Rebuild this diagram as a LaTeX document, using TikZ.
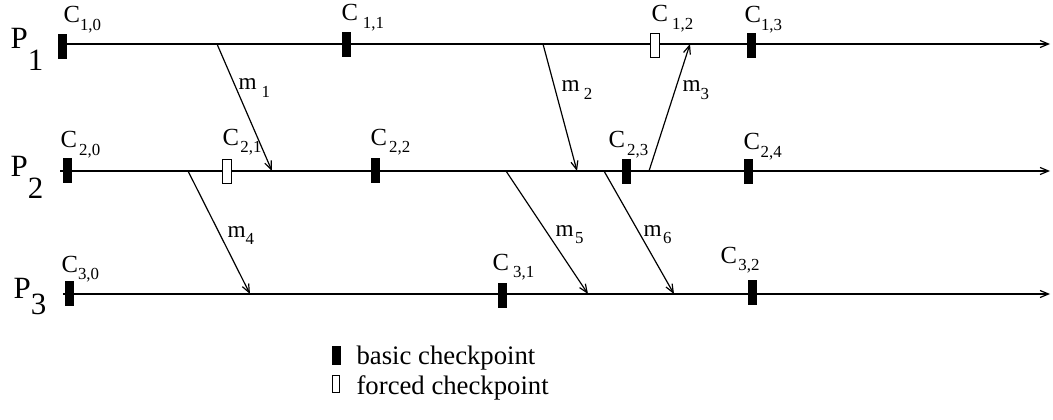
\documentclass[tikz,border=0pt]{standalone}
\usepackage{fontspec}
\setmainfont{Liberation Serif}
\usetikzlibrary{arrows.meta}

% etichette con pedice abbassato
\newcommand{\chk}[2][0pt]{C\hspace{#1}\raisebox{-5pt}{\fontsize{12}{13}\selectfont #2}}
\newcommand{\msg}[2][0pt]{m\hspace{#1}\raisebox{-5pt}{\fontsize{12}{13}\selectfont #2}}
\newcommand{\proc}[2][-15pt]{P\raisebox{#1}{#2}}

\begin{document}
\begin{tikzpicture}[x=0.025cm, y=-0.025cm, line width=0.85pt,
    >={Straight Barb[length=6pt,width=5pt]},
    basic/.style={draw, fill=black, minimum width=0.2cm, minimum height=0.6cm, inner sep=0pt, line width=0.5pt},
    forced/.style={draw, fill=white, minimum width=0.22cm, minimum height=0.6cm, inner sep=0pt, line width=0.7pt},
    cklab/.style={anchor=base west, inner sep=0pt, font=\fontsize{17.5}{20}\selectfont},
    msglab/.style={anchor=base west, inner sep=0pt, font=\fontsize{16.5}{18}\selectfont},
    proclab/.style={anchor=base west, inner sep=0pt, font=\fontsize{22}{24}\selectfont},
    legtext/.style={anchor=base west, inner sep=0pt, font=\fontsize{19}{21}\selectfont}]

    \useasboundingbox (0,0) rectangle (1053,420);

    % --- Processi ---
    \node[proclab] (P1) at (10,49) {\proc{1}};
    \node[proclab] (P2) at (10,177) {\proc{2}};
    \node[proclab] (P3) at (13,298) {\proc[-12pt]{3}};

    % --- Linee temporali ---
    \coordinate (p1s) at (62,44);  \coordinate (p1e) at (1050,44);
    \coordinate (p2s) at (60,171); \coordinate (p2e) at (1050,171);
    \coordinate (p3s) at (63,294); \coordinate (p3e) at (1050,294);
    \draw[->] (p1s) -- (p1e);
    \draw[->] (p2s) -- (p2e);
    \draw[->] (p3s) -- (p3e);

    % --- Messaggi ---
    \coordinate (m1s) at (217,44);  \coordinate (m1e) at (272,171);
    \coordinate (m2s) at (543,44);  \coordinate (m2e) at (577,171);
    \coordinate (m3s) at (649,171); \coordinate (m3e) at (690,44);
    \coordinate (m4s) at (188,171); \coordinate (m4e) at (250,294);
    \coordinate (m5s) at (506,171); \coordinate (m5e) at (588,294);
    \coordinate (m6s) at (604,171); \coordinate (m6e) at (674,294);
    \foreach \m in {1,...,6}
        \draw[->] (m\m s) -- (m\m e);

    \node[msglab] (lm1) at (238,90) {\msg[3.5pt]{1}};
    \node[msglab] (lm2) at (561,92) {\msg[3pt]{2}};
    \node[msglab] (lm3) at (682,92) {\msg{3}};
    \node[msglab] (lm4) at (227,237) {\msg{4}};
    \node[msglab] (lm5) at (555,236) {\msg[1pt]{5}};
    \node[msglab] (lm6) at (643,236) {\msg[1pt]{6}};

    % --- Checkpoint su P1 ---
    \node[basic]  (c10) at (62,46) {};
    \node[basic]  (c11) at (346,44) {};
    \node[forced] (c12) at (655,45) {};
    \node[basic]  (c13) at (751,45) {};
    % --- Checkpoint su P2 ---
    \node[basic]  (c20) at (67,170) {};
    \node[forced] (c21) at (227,171) {};
    \node[basic]  (c22) at (375,170) {};
    \node[basic]  (c23) at (626,171) {};
    \node[basic]  (c24) at (748,171) {};
    % --- Checkpoint su P3 ---
    \node[basic]  (c30) at (69,293) {};
    \node[basic]  (c31) at (502,295) {};
    \node[basic]  (c32) at (752,292) {};

    % etichette dei checkpoint
    \node[cklab] (lc10) at (63,23)  {\chk{1,0}};
    \node[cklab] (lc11) at (341,21) {\chk[3.5pt]{1,1}};
    \node[cklab] (lc12) at (651,22) {\chk[3pt]{1,2}};
    \node[cklab] (lc13) at (744,23) {\chk{1,3}};
    \node[cklab] (lc20) at (60,148) {\chk[1.5pt]{2,0}};
    \node[cklab] (lc21) at (222,145) {\chk[1pt]{2,1}};
    \node[cklab] (lc22) at (370,145) {\chk[1.5pt]{2,2}};
    \node[cklab] (lc23) at (608,148) {\chk[1.5pt]{2,3}};
    \node[cklab] (lc24) at (743,150) {\chk[0.5pt]{2,4}};
    \node[cklab] (lc30) at (61,272) {\chk{3,0}};
    \node[cklab] (lc31) at (492,270) {\chk[3pt]{3,1}};
    \node[cklab] (lc32) at (720,263) {\chk[1pt]{3,2}};

    % --- Legenda ---
    \node[basic, minimum height=0.45cm]  (kb) at (336,355) {};
    \node[forced, minimum width=0.18cm, minimum height=0.42cm] (kf) at (336,384) {};
    \node[legtext] (tb) at (356,364) {basic checkpoint};
    \node[legtext] (tf) at (356,394) {forced checkpoint};

\end{tikzpicture}
\end{document}
